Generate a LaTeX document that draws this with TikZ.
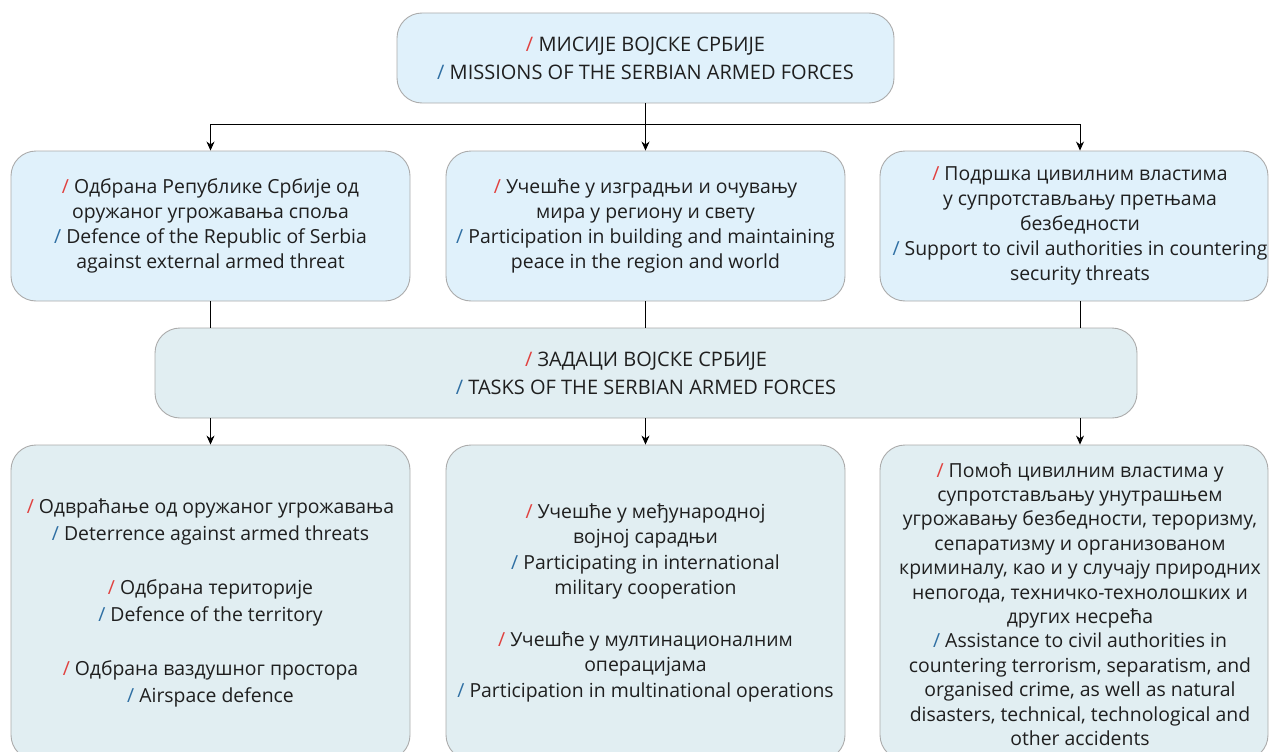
\documentclass[tikz,border=0pt]{standalone}
\usepackage{fontspec}
\setmainfont{Open Sans}
\usetikzlibrary{arrows.meta}
\definecolor{slashred}{HTML}{E0413F}
\definecolor{slashblue}{HTML}{2F6FA3}
\definecolor{missionfill}{HTML}{E0F1FB}
\definecolor{taskfill}{HTML}{E1EEF2}
\definecolor{edgegrey}{HTML}{ABABAB}
\newcommand{\redsl}{\textcolor{slashred}{/}}
\newcommand{\bluesl}{\textcolor{slashblue}{/}}

\begin{document}
\begin{tikzpicture}[x=1pt, y=-1pt,
    box/.style={draw=edgegrey, line width=0.9pt, rounded corners=25pt, align=center,
      font=\fontsize{19.4}{25}\selectfont, text=black!88, inner sep=0pt},
    heading/.style={box, font=\fontsize{20}{28}\selectfont, minimum height=90pt},
    mission/.style={box, fill=missionfill, minimum width=399pt, minimum height=150pt},
    task/.style={box, fill=taskfill, minimum width=399pt, minimum height=315pt},
    boxtext/.style={align=center, font=\fontsize{19.4}{24.4}\selectfont, text=black!88, inner sep=0pt},
    link/.style={black, line width=0.8pt},
    arr/.style={link, -{Stealth[length=9pt, width=8pt]}}]
    \useasboundingbox (0,0) rectangle (1269,752);
    \clip (0,0) rectangle (1269,752);

    % Columns
    \coordinate (col1) at (210.5,0);
    \coordinate (col2) at (645.5,0);
    \coordinate (col3) at (1080,0);

    % Missions
    \node[heading, fill=missionfill, minimum width=497pt] (missions) at (645.5,58)
      {\redsl{} МИСИЈЕ ВОЈСКЕ СРБИЈЕ\\ \bluesl{} MISSIONS OF THE SERBIAN ARMED FORCES};
    \node[mission] (mission1) at (col1 |- 0,226)
      {\redsl{} Одбрана Републике Србије од\\ оружаног угрожавања споља\\
       \bluesl{} Defence of the Republic of Serbia\\ against external armed threat};
    \node[mission] (mission2) at (col2 |- 0,226)
      {\redsl{} Учешће у изградњи и очувању\\ мира у региону и свету\\
       \bluesl{} Participation in building and maintaining\\ peace in the region and world};
    \node[mission, minimum width=388pt] (mission3) at (1074,226) {};
    \node[boxtext, font=\fontsize{19.4}{24.8}\selectfont] (mission3txt) at (col3 |- mission3)
      {\redsl{} Подршка цивилним властима\\ у супротстављању претњама\\ безбедности\\
       \bluesl{} Support to civil authorities in countering\\ security threats};

    % Tasks
    \node[heading, fill=taskfill, minimum width=982pt] (tasks) at (646,373)
      {\redsl{} ЗАДАЦИ ВОЈСКЕ СРБИЈЕ\\ \bluesl{} TASKS OF THE SERBIAN ARMED FORCES};
    \node[task, font=\fontsize{19.4}{27}\selectfont] (task1) at (col1 |- 0,602.5)
      {\redsl{} Одвраћање од оружаног угрожавања\\ \bluesl{} Deterrence against armed threats\\[27pt]
       \redsl{} Одбрана територије\\ \bluesl{} Defence of the territory\\[27pt]
       \redsl{} Одбрана ваздушног простора\\ \bluesl{} Airspace defence};
    \node[task, font=\fontsize{19.4}{25.5}\selectfont] (task2) at (col2 |- 0,602.5)
      {\redsl{} Учешће у међународној\\ војној сарадњи\\
       \bluesl{} Participating in international\\ military cooperation\\[26pt]
       \redsl{} Учешће у мултинационалним\\ операцијама\\
       \bluesl{} Participation in multinational operations};
    \node[task, minimum width=388pt] (task3) at (1074,602.5) {};
    \node[boxtext] (task3txt) at (col3 |- 0,604)
      {\redsl{} Помоћ цивилним властима у\\ супротстављању унутрашњем\\
       угрожавању безбедности, тероризму,\\ сепаратизму и организованом\\
       криминалу, као и у случају природних\\ непогода, техничко-технолошких и\\
       других несрећа\\
       \bluesl{} Assistance to civil authorities in\\ countering terrorism, separatism, and\\
       organised crime, as well as natural\\ disasters, technical, technological and\\
       other accidents};

    % Connectors
    \coordinate (bus) at (645.5,124);
    \draw[link] (missions.south) -- (bus);
    \draw[link] (col1 |- bus) -- (col3 |- bus);
    \foreach \i in {1,2,3} {
      \draw[arr] (col\i |- bus) -- (col\i |- mission\i.north);
      \draw[link] (col\i |- mission\i.south) -- (col\i |- tasks.north);
      \draw[arr] (col\i |- tasks.south) -- (col\i |- task\i.north);
    }
\end{tikzpicture}
\end{document}
